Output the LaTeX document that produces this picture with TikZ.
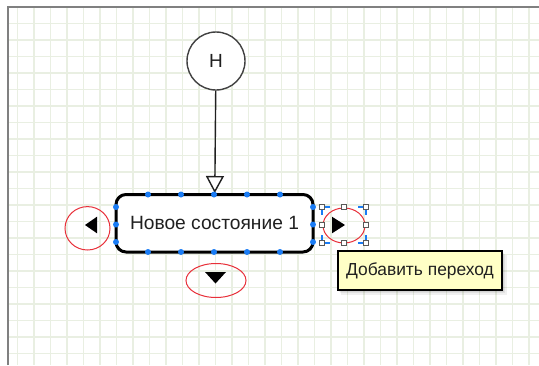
\documentclass[tikz,border=0pt]{standalone}
\usepackage{fontspec}
\setmainfont{Liberation Sans}
\usetikzlibrary{arrows.meta}
\definecolor{gridc}{HTML}{E9EFE2}
\definecolor{framec}{HTML}{808080}
\definecolor{dotblue}{HTML}{1A7CF5}
\definecolor{hintred}{HTML}{E8303A}
\definecolor{tipfill}{HTML}{FFFFC6}
\definecolor{inkc}{HTML}{202020}
\tikzset{
  gridline/.style={gridc, line width=1.5pt},
  statecirc/.style={circle, draw=inkc!85, line width=1.4pt, fill=white, minimum size=58pt, inner sep=0pt, font=\fontsize{19}{22}\selectfont, text=inkc},
  statebox/.style={rectangle, rounded corners=10pt, draw=black, line width=3pt, fill=white, minimum width=197pt, minimum height=57.5pt, inner sep=0pt, font=\fontsize{19.2}{22}\selectfont, text=inkc},
  conn/.style={draw=inkc, line width=1.4pt, -{Triangle[open, length=17pt, width=18pt, fill=white]}},
  selDot/.style={fill=dotblue},
  hint/.style={draw=hintred, line width=1pt},
  handlesq/.style={draw=black!65, fill=white, line width=0.9pt},
  tipbox/.style={rectangle, draw=black, line width=1.5pt, fill=tipfill, minimum width=164pt, minimum height=39pt, inner sep=0pt, font=\fontsize{17.4}{20}\selectfont, text=inkc},
}
\begin{document}
\begin{tikzpicture}[x=1pt,y=-1pt]
\useasboundingbox (0,0) rectangle (539,365);
\fill[white] (0,0) rectangle (539,365);
% grid
\foreach \k in {1,...,32} \draw[gridline] ({1.2+16.5*\k},7) -- ({1.2+16.5*\k},365);
\foreach \k in {1,...,21} \draw[gridline] (8,{6.8+16.5*\k}) -- (539,{6.8+16.5*\k});
% frame
\draw[framec, line width=2pt] (7.5,365) -- (7.5,6.5) -- (539,6.5);

% nodes
\node[statecirc] (H) at (216,61) {Н};
\node[statebox] (S) at (214.5,223.25) {Новое состояние 1};
\draw[conn] (H) -- (S);

% selection dots on box
\foreach \x in {148,181,214,247,280} {
  \fill[selDot] (\x,194.5) circle (3pt);
  \fill[selDot] (\x,252) circle (3pt);
}
\foreach \y in {207,224.5,242} {
  \fill[selDot] (116,\y) circle (3pt);
  \fill[selDot] (313,\y) circle (3pt);
}

% left hint
\draw[hint] (87.5,228.3) ellipse [x radius=22.5pt, y radius=21.7pt];
\fill[black] (85,225) -- (97,216.7) -- (97,233.3) -- cycle;

% bottom hint
\draw[hint] (216,280.5) ellipse [x radius=30pt, y radius=17pt];
\fill[black] (205,272) -- (226,272) -- (215.5,283.5) -- cycle;

% right hint (selected)
\draw[hint] (344,225.5) ellipse [x radius=21pt, y radius=17.5pt];
\fill[black] (345,225) -- (332,216.7) -- (332,233.3) -- cycle;
\draw[dotblue, line width=1.1pt] (330,207) -- (322,207) -- (322,215);
\draw[dotblue, line width=1.1pt] (358,207) -- (366,207) -- (366,215);
\draw[dotblue, line width=1.1pt] (330,243) -- (322,243) -- (322,235);
\draw[dotblue, line width=1.1pt] (358,243) -- (366,243) -- (366,235);
\foreach \x in {322,344,366} {
  \draw[handlesq] (\x-2.5,204.5) rectangle (\x+2.5,209.5);
  \draw[handlesq] (\x-2.5,240.5) rectangle (\x+2.5,245.5);
}
\draw[handlesq] (319.5,222.5) rectangle (324.5,227.5);
\draw[handlesq] (363.5,222.5) rectangle (368.5,227.5);

% tooltip with shadow
\fill[black, opacity=0.06] (341,255) rectangle (507,295);
\fill[black, opacity=0.06] (340,254) rectangle (505,293);
\fill[black, opacity=0.06] (339,253) rectangle (504,292);
\node[tipbox] (tip) at (420,270.5) {Добавить переход};
\end{tikzpicture}
\end{document}
